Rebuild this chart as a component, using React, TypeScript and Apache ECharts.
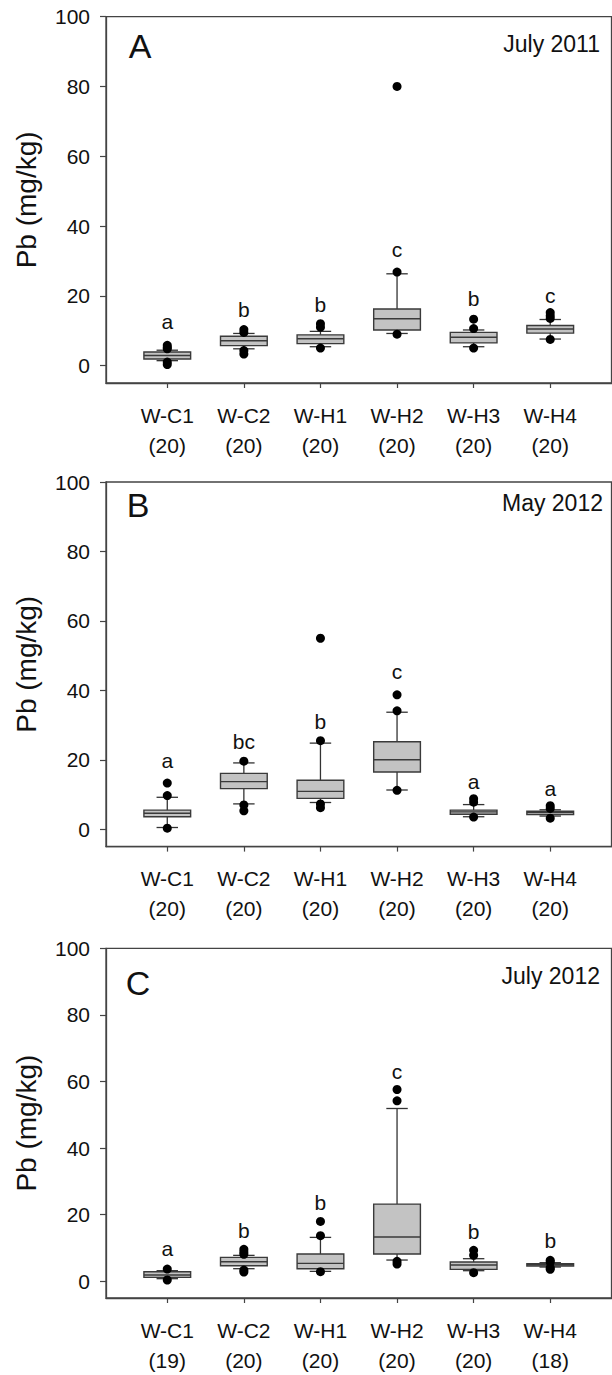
import React, { useEffect, useRef } from "react";
import * as echarts from "echarts";

const categories = ["W-C1", "W-C2", "W-H1", "W-H2", "W-H3", "W-H4"];
const yTicks = [0, 20, 40, 60, 80, 100];

// [lower whisker, Q1, median, Q3, upper whisker]
const countsA = [20, 20, 20, 20, 20, 20];
const boxA = [
  [1.4, 1.9, 2.9, 3.9, 4.4],
  [4.8, 5.7, 7.1, 8.4, 9.2],
  [5.4, 6.3, 7.7, 8.8, 9.8],
  [9.2, 10.2, 13.4, 16.2, 26.3],
  [5.4, 6.5, 8.1, 9.5, 10.2],
  [7.6, 9.3, 10.5, 11.5, 13.2],
];
const outliersA = [
  [5.8, 5.2, 4.8, 1.0, 0.3],
  [10.3, 9.5, 4.3, 3.3],
  [12.0, 11.0, 5.0],
  [80, 26.8, 9.0],
  [13.3, 10.6, 5.0],
  [15.2, 14.3, 13.5, 7.5],
];
const lettersA = ["a", "b", "b", "c", "b", "c"];
const letterYA = [12.6, 16.1, 17.6, 33.2, 19.3, 20.2];

const countsB = [20, 20, 20, 20, 20, 20];
const boxB = [
  [0.5, 3.6, 4.6, 5.5, 9.2],
  [7.3, 11.7, 13.7, 16.1, 19.1],
  [7.7, 8.9, 10.9, 14.1, 24.8],
  [11.3, 16.5, 20.0, 25.2, 33.7],
  [3.6, 4.3, 5.0, 5.5, 7.1],
  [3.8, 4.2, 4.8, 5.2, 5.6],
];
const outliersB = [
  [13.3, 9.7, 0.3],
  [19.6, 7.0, 5.3],
  [55, 25.5, 7.3, 6.2],
  [38.7, 34.1, 11.2],
  [8.8, 7.8, 3.5],
  [6.8, 6.0, 3.2],
];
const lettersB = ["a", "bc", "b", "c", "a", "a"];
const letterYB = [19.8, 25.2, 31.0, 45.4, 13.7, 11.8];

const countsC = [19, 20, 20, 20, 20, 18];
const boxC = [
  [0.8, 1.2, 1.9, 2.9, 3.2],
  [3.8, 4.7, 5.9, 7.2, 7.8],
  [3.0, 3.8, 5.4, 8.2, 13.2],
  [6.4, 8.2, 13.3, 23.2, 51.9],
  [3.2, 3.6, 4.9, 5.8, 6.8],
  [4.3, 4.6, 5.0, 5.3, 5.6],
];
const outliersC = [
  [3.7, 0.4],
  [9.6, 8.8, 8.1, 3.4, 2.8],
  [18.0, 13.7, 2.9],
  [57.6, 54.2, 6.0, 5.2],
  [9.3, 7.8, 2.6],
  [6.3, 5.8, 4.1, 3.6],
];
const lettersC = ["a", "b", "b", "c", "b", "b"];
const letterYC = [9.9, 15.2, 23.6, 62.9, 14.9, 12.3];

const panels = [
  { tag: "A", date: "July 2011", box: boxA, out: outliersA, letters: lettersA, letterY: letterYA, counts: countsA },
  { tag: "B", date: "May 2012", box: boxB, out: outliersB, letters: lettersB, letterY: letterYB, counts: countsB },
  { tag: "C", date: "July 2012", box: boxC, out: outliersC, letters: lettersC, letterY: letterYC, counts: countsC },
];

const FONT = "'Liberation Sans', Arial, Helvetica, sans-serif";
const gridTops = [16.7, 482, 948.3];
const gridHeights = [366.3, 364.6, 363.3];
const tagPos = [[140, 46], [138, 505], [138, 983]];
const datePos = [[600, 44], [603, 503], [600, 976]];

function buildOption() {
  const grid: any[] = [];
  const xAxis: any[] = [];
  const yAxis: any[] = [];
  const series: any[] = [];
  const graphic: any[] = [];
  const catPos = categories.map((_, i) => i + 1);

  panels.forEach((p, k) => {
    grid.push({
      left: 106,
      top: gridTops[k],
      width: 505.5,
      height: gridHeights[k],
      show: true,
      borderColor: "#444",
      borderWidth: 1.3,
      backgroundColor: "transparent",
    });
    xAxis.push({
      type: "value",
      gridIndex: k,
      min: 0.2,
      max: 6.8,
      splitLine: { show: false },
      axisLine: { show: true, onZero: false, lineStyle: { color: "#444", width: 1.3 } },
      axisTick: { show: true, customValues: catPos, length: 5, lineStyle: { color: "#444", width: 1.2 } },
      axisLabel: {
        customValues: catPos,
        formatter: (v: number) => {
          const i = Math.round(v) - 1;
          return categories[i] + "\n(" + p.counts[i] + ")";
        },
        fontSize: 21,
        lineHeight: 30,
        margin: 17,
        color: "#111",
        fontFamily: FONT,
      },
    });
    yAxis.push({
      type: "value",
      gridIndex: k,
      min: -5,
      max: 100,
      splitLine: { show: false },
      axisLine: { show: true, onZero: false, lineStyle: { color: "#444", width: 1.3 } },
      axisTick: { show: true, customValues: yTicks, length: 6, lineStyle: { color: "#444", width: 1.2 } },
      axisLabel: {
        customValues: yTicks,
        fontSize: 21,
        margin: 16,
        color: "#111",
        fontFamily: FONT,
      },
      name: "Pb (mg/kg)",
      nameLocation: "middle",
      nameGap: 66,
      nameTextStyle: { fontSize: 28, color: "#111", fontFamily: FONT },
    });

    series.push({
      type: "custom",
      xAxisIndex: k,
      yAxisIndex: k,
      data: p.box.map((b, j) => [j + 1, ...b]),
      encode: { x: 0, y: [1, 2, 3, 4, 5] },
      renderItem: (params: any, api: any) => {
        const x = api.value(0);
        const lo = api.coord([x, api.value(1)]);
        const q1 = api.coord([x, api.value(2)]);
        const md = api.coord([x, api.value(3)]);
        const q3 = api.coord([x, api.value(4)]);
        const hi = api.coord([x, api.value(5)]);
        const bw = api.size([0.61, 0])[0];
        const cw = api.size([0.28, 0])[0];
        const cx = lo[0];
        const ls = { stroke: "#333", lineWidth: 1.3 };
        return {
          type: "group",
          children: [
            { type: "line", shape: { x1: cx, y1: hi[1], x2: cx, y2: q3[1] }, style: ls },
            { type: "line", shape: { x1: cx, y1: lo[1], x2: cx, y2: q1[1] }, style: ls },
            { type: "line", shape: { x1: cx - cw / 2, y1: hi[1], x2: cx + cw / 2, y2: hi[1] }, style: ls },
            { type: "line", shape: { x1: cx - cw / 2, y1: lo[1], x2: cx + cw / 2, y2: lo[1] }, style: ls },
            {
              type: "rect",
              shape: { x: cx - bw / 2, y: q3[1], width: bw, height: q1[1] - q3[1] },
              style: { fill: "#c3c3c3", stroke: "#3a3a3a", lineWidth: 1.4 },
            },
            { type: "line", shape: { x1: cx - bw / 2, y1: md[1], x2: cx + bw / 2, y2: md[1] }, style: { stroke: "#3a3a3a", lineWidth: 1.4 } },
          ],
        };
      },
      z: 2,
    });

    const outData: number[][] = [];
    p.out.forEach((arr, j) => arr.forEach((v) => outData.push([j + 1, v])));
    series.push({
      type: "scatter",
      xAxisIndex: k,
      yAxisIndex: k,
      data: outData,
      symbol: "circle",
      symbolSize: 9,
      itemStyle: { color: "#000", opacity: 1 },
      z: 3,
    });

    series.push({
      type: "scatter",
      xAxisIndex: k,
      yAxisIndex: k,
      data: p.letters.map((l, j) => [j + 1, p.letterY[j], l]),
      symbolSize: 1,
      itemStyle: { color: "rgba(0,0,0,0)" },
      label: {
        show: true,
        position: "inside",
        formatter: (q: any) => q.value[2],
        fontSize: 21,
        color: "#111",
        opacity: 1,
        textBorderWidth: 0,
        fontFamily: FONT,
      },
      z: 4,
    });

    graphic.push({
      type: "text",
      x: tagPos[k][0],
      y: tagPos[k][1],
      style: { text: p.tag, font: "34px " + FONT, fill: "#111", textAlign: "center", textVerticalAlign: "middle" },
    });
    graphic.push({
      type: "text",
      x: datePos[k][0],
      y: datePos[k][1],
      style: { text: p.date, font: "23px " + FONT, fill: "#111", textAlign: "right", textVerticalAlign: "middle" },
    });
  });

  return {
    animation: false,
    backgroundColor: "#fff",
    grid,
    xAxis,
    yAxis,
    series,
    graphic,
  };
}

export default function App() {
  const ref = useRef<HTMLDivElement>(null);
  useEffect(() => {
    if (!ref.current) return;
    const chart = echarts.init(ref.current, null, { renderer: "svg" });
    chart.setOption(buildOption() as any);
    return () => chart.dispose();
  }, []);
  return (
    <div
      ref={ref}
      style={{ position: "absolute", left: 0, top: 0, width: 612, height: 1375, background: "#fff" }}
    />
  );
}
